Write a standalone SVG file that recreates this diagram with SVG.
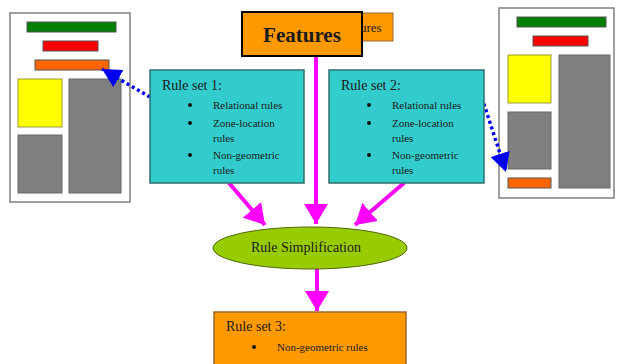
<svg xmlns="http://www.w3.org/2000/svg" width="617" height="364" viewBox="0 0 617 364">
<defs>
<style>
.page{fill:#fff;stroke:#808080;stroke-width:1.5}
.bar{stroke:#555;stroke-width:1}
.green{fill:#008000}.red{fill:#ff0000}.orange{fill:#ff6600}.yellow{fill:#ffff00;stroke:#999933}.gray{fill:#808080;stroke:#666}
.rs{fill:#33cccc;stroke:#2f6f6f;stroke-width:1.5}
.t{font-family:"Liberation Serif",serif;fill:#1a1a1a}
.h{font-size:14px}
.it{font-size:11px}
.mag{stroke:#ff00ff;stroke-width:4;fill:none}
.blue{stroke:#0000ee;stroke-width:3.5;stroke-dasharray:3 3;fill:none}
</style>
<marker id="mh" markerUnits="userSpaceOnUse" markerWidth="22" markerHeight="24" refX="20" refY="12" orient="auto"><path d="M0,0 L20,12 L0,24 z" fill="#ff00ff"/></marker>
<marker id="bh" markerUnits="userSpaceOnUse" markerWidth="20" markerHeight="20" refX="19" refY="10" orient="auto"><path d="M0,0 L19,10 L0,20 z" fill="#0000ee"/></marker>
</defs>
<rect width="617" height="364" fill="#fff"/>
<g id="page-left">
<rect class="page" x="10" y="13" width="120" height="189"/>
<rect class="bar green" x="27" y="22" width="89" height="10"/>
<rect class="bar red" x="43" y="41" width="55" height="10"/>
<rect class="bar orange" x="35" y="60" width="74" height="10"/>
<rect class="bar yellow" x="18" y="79" width="44" height="48"/>
<rect class="bar gray" x="18" y="135" width="44" height="58"/>
<rect class="bar gray" x="69" y="79" width="52" height="114"/>
</g>
<g id="page-right">
<rect class="page" x="499" y="8" width="115" height="190"/>
<rect class="bar green" x="517" y="17" width="89" height="10"/>
<rect class="bar red" x="533" y="36" width="55" height="10"/>
<rect class="bar yellow" x="508" y="55" width="43" height="48"/>
<rect class="bar gray" x="508" y="112" width="43" height="57"/>
<rect class="bar orange" x="508" y="178" width="43" height="10"/>
<rect class="bar gray" x="559" y="55" width="51" height="133"/>
</g>
<g id="features-back">
<rect x="330" y="13" width="63" height="28" fill="#ff9900" stroke="#996633" stroke-width="1"/>
<text class="t" x="360" y="32" font-size="13">ures</text>
</g>
<g id="connectors">
<line class="mag" x1="316" y1="56" x2="316" y2="224" marker-end="url(#mh)"/>
<line class="mag" x1="229" y1="183" x2="265" y2="225" marker-end="url(#mh)"/>
<line class="mag" x1="404" y1="183" x2="355" y2="225" marker-end="url(#mh)"/>
<line class="mag" x1="317" y1="269" x2="317" y2="311" marker-end="url(#mh)"/>
<line class="blue" x1="150" y1="97" x2="102" y2="69" marker-end="url(#bh)"/>
<line class="blue" x1="482" y1="98" x2="506" y2="172" marker-end="url(#bh)"/>
</g>
<g id="features">
<rect x="242" y="12" width="120" height="44" fill="#ff9900" stroke="#000" stroke-width="2"/>
<text class="t" x="302" y="42" font-size="21" font-weight="bold" text-anchor="middle" fill="#000">Features</text>
</g>
<g id="rule-set-1">
<rect class="rs" x="150" y="70" width="154" height="113"/>
<text class="t h" x="162" y="90">Rule set 1:</text>
<circle cx="190" cy="105" r="2" fill="#111"/>
<circle cx="190" cy="123" r="2" fill="#111"/>
<circle cx="190" cy="155" r="2" fill="#111"/>
<text class="t it" x="213" y="109">Relational rules</text>
<text class="t it" x="213" y="127">Zone-location</text>
<text class="t it" x="213" y="142">rules</text>
<text class="t it" x="213" y="159">Non-geometric</text>
<text class="t it" x="213" y="174">rules</text>
</g>
<g id="rule-set-2">
<rect class="rs" x="329" y="70" width="155" height="113"/>
<text class="t h" x="341" y="90">Rule set 2:</text>
<circle cx="369" cy="105" r="2" fill="#111"/>
<circle cx="369" cy="123" r="2" fill="#111"/>
<circle cx="369" cy="155" r="2" fill="#111"/>
<text class="t it" x="392" y="109">Relational rules</text>
<text class="t it" x="392" y="127">Zone-location</text>
<text class="t it" x="392" y="142">rules</text>
<text class="t it" x="392" y="159">Non-geometric</text>
<text class="t it" x="392" y="174">rules</text>
</g>
<g id="rule-simplification">
<ellipse cx="310" cy="248" rx="97" ry="21" fill="#99cc00" stroke="#4d6600" stroke-width="1"/>
<text class="t" x="306" y="252" font-size="14" text-anchor="middle">Rule Simplification</text>
</g>
<g id="rule-set-3">
<rect x="214" y="312" width="192" height="60" fill="#ff9900" stroke="#996633" stroke-width="1.5"/>
<text class="t h" x="226" y="331">Rule set 3:</text>
<circle cx="254" cy="347" r="2" fill="#111"/>
<text class="t it" x="277" y="351">Non-geometric rules</text>
</g>
</svg>
